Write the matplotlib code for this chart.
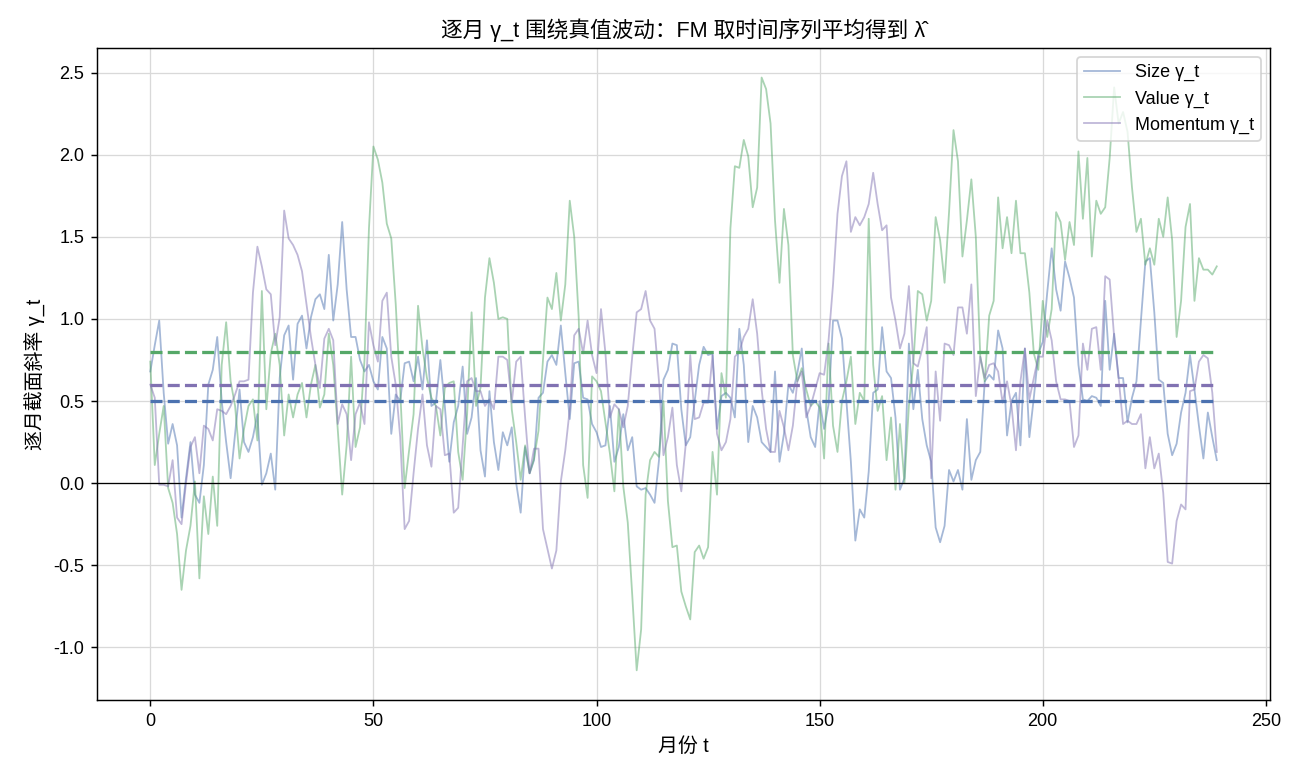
import numpy as np
import matplotlib
matplotlib.use("Agg")
import matplotlib.pyplot as plt

plt.rcParams['font.family'] = ['Liberation Sans', 'Noto Sans CJK SC', 'DejaVu Sans']
plt.rcParams['axes.unicode_minus'] = False

months = list(range(240))

size_gamma = [
    0.68, 0.84, 0.99, 0.55, 0.24, 0.36, 0.23, -0.21, 0.03, 0.25,
    -0.07, -0.12, 0.11, 0.60, 0.69, 0.89, 0.50, 0.25, 0.03, 0.30,
    0.57, 0.25, 0.19, 0.28, 0.42, -0.01, 0.06, 0.18, -0.04, 0.64,
    0.90, 0.96, 0.63, 0.97, 1.02, 0.82, 1.01, 1.12, 1.15, 1.06,
    1.39, 0.99, 1.21, 1.59, 1.18, 0.89, 0.89, 0.75, 0.68, 0.72,
    0.62, 0.57, 0.89, 0.82, 0.30, 0.54, 0.50, 0.73, 0.74, 0.62,
    0.77, 0.57, 0.87, 0.47, 0.49, 0.75, 0.47, 0.13, 0.37, 0.47,
    0.71, 0.30, 0.40, 0.64, 0.20, 0.04, 0.56, 0.25, 0.08, 0.31,
    0.23, 0.34, 0.00, -0.18, 0.22, 0.06, 0.14, 0.52, 0.55, 0.74,
    0.78, 0.72, 0.96, 0.67, 0.39, 0.73, 0.74, 0.52, 0.51, 0.36,
    0.31, 0.22, 0.23, 0.47, 0.13, 0.22, 0.42, 0.20, 0.28, -0.02,
    -0.04, -0.03, -0.07, -0.12, 0.14, 0.63, 0.69, 0.85, 0.84, 0.45,
    0.23, 0.28, 0.50, 0.72, 0.83, 0.78, 0.79, 0.33, 0.53, 0.55,
    0.52, 0.40, 0.94, 0.72, 0.25, 0.47, 0.40, 0.25, 0.22, 0.19,
    0.68, 0.13, 0.30, 0.60, 0.55, 0.67, 0.82, 0.45, 0.28, 0.22,
    0.50, 0.33, 0.48, 0.99, 0.99, 0.88, 0.50, 0.13, -0.35, -0.16,
    -0.21, 0.07, 0.55, 0.57, 0.95, 0.68, 0.64, 0.40, -0.04, 0.03,
    0.85, 0.45, 0.69, 0.39, 0.23, 0.13, -0.27, -0.36, -0.26, 0.08,
    0.01, 0.08, -0.04, 0.39, 0.02, 0.14, 0.19, 0.62, 0.66, 0.63,
    0.93, 0.82, 0.29, 0.50, 0.55, 0.23, 0.82, 0.28, 0.52, 0.79,
    0.86, 1.16, 1.43, 1.18, 1.05, 1.35, 1.25, 1.13, 0.72, 0.51,
    0.50, 0.53, 0.52, 0.47, 1.11, 0.69, 0.91, 0.64, 0.64, 0.37,
    0.52, 0.62, 0.99, 1.35, 1.37, 1.04, 0.63, 0.61, 0.30, 0.17,
    0.24, 0.43, 0.55, 0.78, 0.57, 0.35, 0.15, 0.43, 0.28, 0.14,
]

value_gamma = [
    0.74, 0.11, 0.30, 0.47, -0.03, -0.12, -0.31, -0.65, -0.41, -0.26,
    0.01, -0.58, -0.08, -0.31, 0.04, -0.26, 0.72, 0.98, 0.62, 0.47,
    0.15, 0.33, 0.47, 0.51, 0.26, 1.17, 0.45, 0.79, 0.91, 0.72,
    0.29, 0.54, 0.40, 0.54, 0.61, 0.40, 0.60, 0.72, 0.46, 0.54,
    0.91, 0.72, 0.33, -0.07, 0.23, 0.77, 0.22, 0.34, 0.75, 1.55,
    2.05, 1.97, 1.83, 1.58, 1.49, 1.09, 0.57, -0.03, 0.20, 0.42,
    1.08, 0.82, 0.64, 0.52, 0.47, 0.29, 0.58, 0.61, 0.62, 0.19,
    0.02, 0.42, 1.04, 0.47, 0.58, 1.13, 1.37, 1.22, 1.00, 1.01,
    1.00, 0.45, 0.25, 0.02, 0.23, 0.06, 0.15, 0.32, 0.75, 1.13,
    1.06, 1.28, 0.99, 1.21, 1.72, 1.50, 1.01, 0.11, -0.09, 0.65,
    0.62, 0.56, 0.37, 0.18, -0.05, 0.45, -0.02, -0.24, -0.68, -1.14,
    -0.89, -0.07, 0.14, 0.19, 0.16, 0.50, -0.11, -0.39, -0.38, -0.66,
    -0.75, -0.83, -0.42, -0.38, -0.46, -0.39, 0.19, -0.07, 0.67, 0.52,
    1.55, 1.93, 1.92, 2.09, 1.99, 1.68, 1.80, 2.47, 2.40, 2.19,
    1.60, 1.22, 1.67, 1.45, 0.78, 0.62, 0.70, 0.57, 0.47, 0.50,
    0.46, 0.15, 0.85, 0.35, 0.19, 0.50, 0.62, 0.77, 0.36, 0.55,
    0.50, 1.61, 0.72, 0.44, 0.53, 0.14, 0.40, -0.04, 0.36, 0.00,
    0.47, 0.73, 1.17, 1.15, 0.99, 1.11, 1.62, 1.48, 1.22, 1.65,
    2.15, 1.96, 1.38, 1.60, 1.85, 1.50, 0.77, 0.62, 1.02, 1.11,
    1.74, 1.43, 1.62, 1.40, 1.72, 1.40, 1.40, 1.16, 0.79, 0.69,
    1.11, 0.89, 1.06, 1.65, 1.59, 1.36, 1.59, 1.45, 2.02, 1.61,
    1.98, 1.38, 1.72, 1.64, 1.68, 1.98, 2.41, 2.19, 2.26, 2.14,
    1.80, 1.53, 1.61, 1.33, 1.43, 1.33, 1.61, 1.50, 1.74, 1.48,
    0.89, 1.11, 1.56, 1.70, 1.11, 1.37, 1.30, 1.30, 1.27, 1.32,
]

momentum_gamma = [
    0.60, 0.52, -0.01, -0.01, -0.02, 0.14, -0.21, -0.25, 0.00, 0.22,
    0.28, 0.06, 0.35, 0.33, 0.26, 0.45, 0.44, 0.42, 0.47, 0.54,
    0.62, 0.62, 0.63, 1.16, 1.44, 1.32, 1.18, 1.15, 0.84, 1.01,
    1.66, 1.49, 1.45, 1.39, 1.29, 1.09, 0.89, 0.72, 0.58, 0.88,
    0.94, 0.87, 0.36, 0.48, 0.42, 0.14, 0.42, 0.49, 0.36, 0.98,
    0.84, 0.74, 1.11, 1.16, 0.77, 0.60, 0.28, -0.28, -0.23, 0.06,
    0.33, 0.54, 0.23, 0.10, 0.47, 0.45, 0.17, 0.18, -0.18, -0.15,
    0.23, 0.62, 0.64, 0.56, 0.56, 0.47, 0.51, 0.45, 0.77, 0.77,
    0.75, 0.49, 0.74, 0.77, 0.40, 0.06, 0.21, 0.21, -0.28, -0.40,
    -0.52, -0.41, 0.01, 0.20, 0.45, 0.90, 0.94, 0.79, 0.99, 0.78,
    0.67, 1.06, 0.79, 0.40, 0.48, 0.45, 0.34, 0.47, 0.77, 1.04,
    1.06, 1.17, 0.99, 0.94, 0.62, 0.17, 0.28, 0.46, 0.11, -0.05,
    0.24, 0.78, 0.39, 0.40, 0.49, 0.49, 0.78, 0.30, 0.20, 0.25,
    0.39, 0.77, 0.80, 0.89, 0.94, 1.12, 0.91, 0.57, 0.33, 0.19,
    0.19, 0.44, 0.34, 0.20, 0.35, 0.62, 0.68, 0.40, 0.47, 0.57,
    0.67, 0.66, 0.87, 1.21, 1.64, 1.87, 1.96, 1.53, 1.62, 1.57,
    1.62, 1.70, 1.89, 1.70, 1.54, 1.57, 1.13, 0.99, 0.82, 0.91,
    1.20, 0.73, 0.71, 0.82, 0.95, 0.03, 0.68, 0.38, 0.85, 0.84,
    0.78, 1.07, 1.07, 0.91, 1.21, 0.53, 0.77, 0.64, 0.72, 0.73,
    0.68, 0.49, 0.62, 0.47, 0.20, 0.62, 0.82, 0.51, 0.64, 0.77,
    0.77, 0.99, 0.87, 0.62, 0.51, 0.51, 0.50, 0.22, 0.29, 0.85,
    0.69, 0.94, 0.95, 0.69, 1.26, 1.24, 0.89, 0.64, 0.36, 0.38,
    0.36, 0.36, 0.42, 0.09, 0.28, 0.09, 0.18, -0.06, -0.48, -0.49,
    -0.23, -0.13, -0.16, 0.56, 0.57, 0.74, 0.78, 0.76, 0.55, 0.19,
]

series_names = ["Size γ_t", "Value γ_t", "Momentum γ_t"]
true_lambda = [0.5, 0.8, 0.6]
colors = ["#4c72b0", "#55a868", "#8172b2"]

fig = plt.figure(figsize=(10, 6), dpi=130)
ax = fig.add_axes([0.0746, 0.1026, 0.9024, 0.836])

for name, vals, col in zip(series_names, [size_gamma, value_gamma, momentum_gamma], colors):
    ax.plot(months, vals, color=col, alpha=0.5, lw=1.0, label=name)

for lam, col in zip(true_lambda, colors):
    ax.plot([months[0], months[-1]], [lam, lam], color=col, lw=1.8, ls="--")

ax.axhline(0, color="black", lw=0.7)
ax.grid(True, color="#d9d9d9", lw=0.7)
ax.set_axisbelow(True)
ax.set_title("逐月 γ_t 围绕真值波动：FM 取时间序列平均得到 λ̂", fontsize=12)
ax.set_xlabel("月份 t", fontsize=11)
ax.set_ylabel("逐月截面斜率 γ_t", fontsize=11)
ax.tick_params(labelsize=10)
ax.legend(loc="upper right", fontsize=10, framealpha=0.8)

fig.savefig("out.png", dpi=130)
